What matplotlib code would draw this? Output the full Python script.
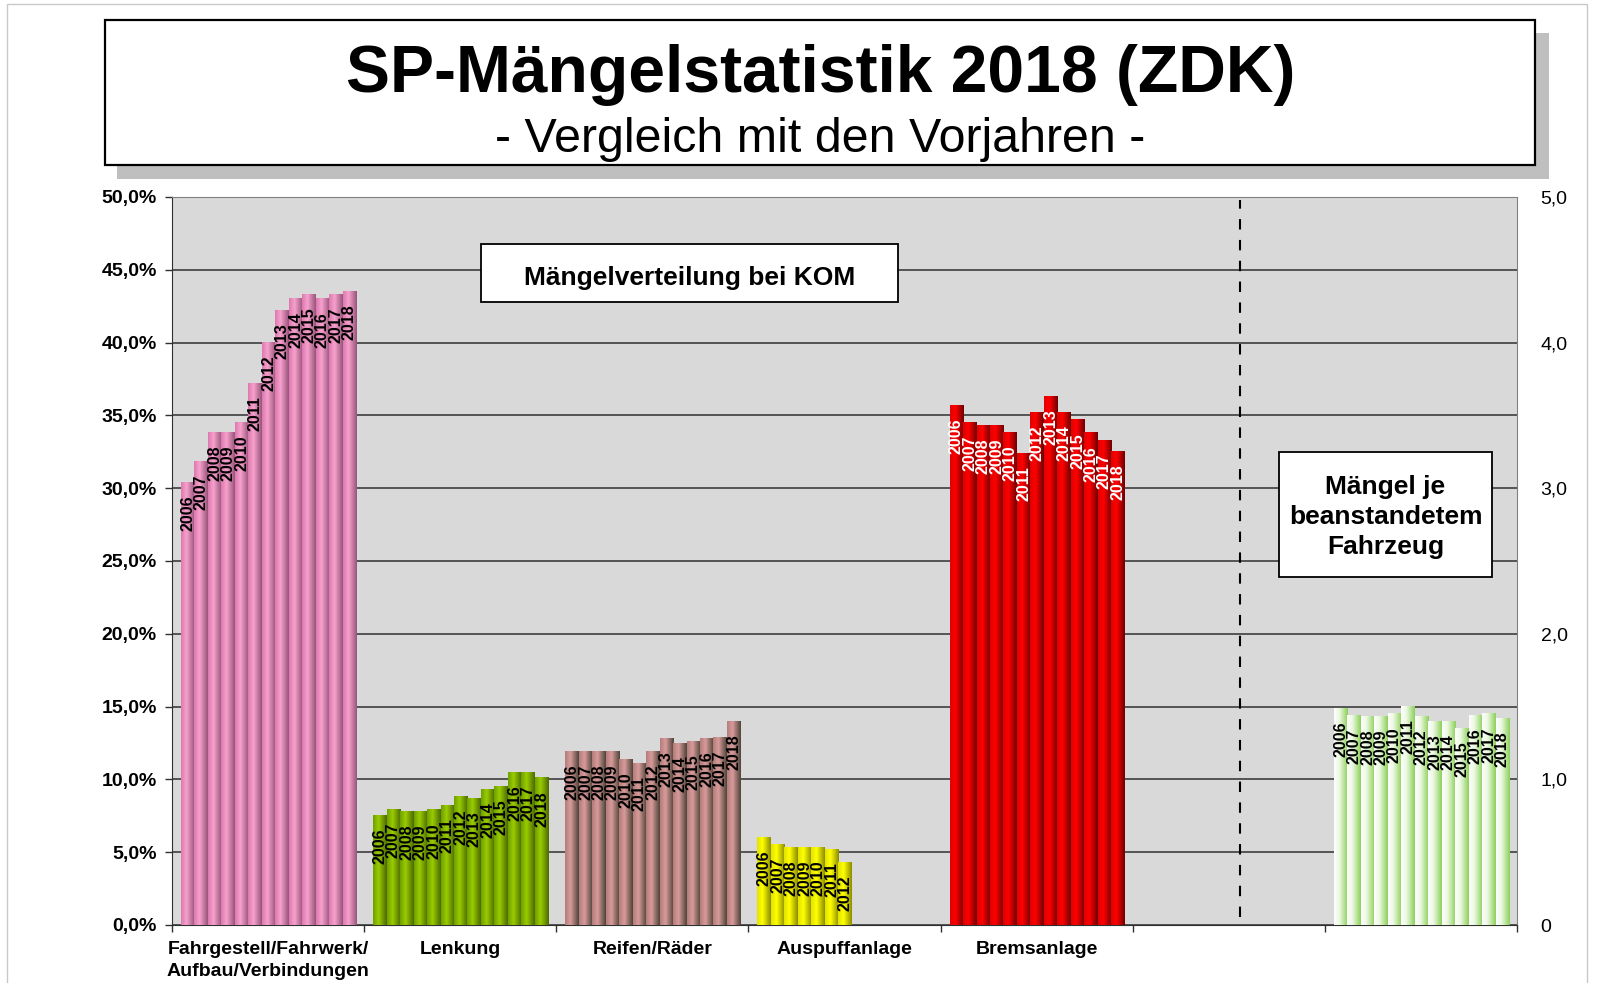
"""SP-Maengelstatistik 2018 (ZDK): Maengelverteilung bei KOM, 2006-2018."""
import numpy as np
import matplotlib.pyplot as plt
from matplotlib.patches import Rectangle
from matplotlib.colors import LinearSegmentedColormap

plt.rcParams['font.family'] = ['Liberation Sans', 'DejaVu Sans']

W, H = 1597, 983

years = [str(y) for y in range(2006, 2019)]
categories = ["Fahrgestell/Fahrwerk/\nAufbau/Verbindungen", "Lenkung", "Reifen/Räder",
              "Auspuffanlage", "Bremsanlage", "", ""]

# share of defects in % (left axis)
fahrgestell = [30.4, 31.8, 33.8, 33.8, 34.5, 37.2, 40.0, 42.2, 43.0, 43.3, 43.0, 43.3, 43.5]
lenkung = [7.5, 7.9, 7.8, 7.8, 7.9, 8.2, 8.8, 8.7, 9.3, 9.5, 10.5, 10.5, 10.1]
reifen = [11.9, 11.9, 11.9, 11.9, 11.4, 11.1, 11.9, 12.8, 12.5, 12.6, 12.8, 12.9, 14.0]
auspuff = [6.0, 5.5, 5.3, 5.3, 5.3, 5.2, 4.3]
brems = [35.7, 34.5, 34.3, 34.3, 33.8, 32.4, 35.2, 36.3, 35.2, 34.7, 33.8, 33.3, 32.5]

# defects per rejected vehicle (right axis)
maengel_je_fzg = [1.49, 1.44, 1.43, 1.43, 1.45, 1.50, 1.43, 1.40, 1.40, 1.35, 1.44, 1.45, 1.42]

left_ticks = list(range(0, 51, 5))
left_labels = [f"{v},0%" for v in left_ticks]
right_ticks = list(range(0, 6))
right_labels = ["0"] + [f"{v},0" for v in right_ticks[1:]]

# (left edge, middle, right edge) shading per category
pink = ('#DC78AE', '#F7A2CD', '#98537A')
green = ('#6E9F00', '#9ACC00', '#4C6A00')
rose = ('#B47C7C', '#D89B9B', '#4E4438')
yellow = ('#E2E200', '#FFFF00', '#8C8C00')
red = ('#E00000', '#FF0000', '#6E0000')
pale = ('#FFFFFF', '#EAF8E0', '#8CD058')


def fx(px):
    return px / W


def fy(py):
    return 1 - py / H


GROUP_OFF = 0.047
BAR_W = 0.0701


def gradient_bars(axis, cat, vals, cols, txt_color):
    xs = [cat + GROUP_OFF + (j + 0.5) * BAR_W for j in range(len(vals))]
    bars = axis.bar(xs, vals, width=BAR_W, color=cols[1], edgecolor='none', zorder=2)
    cmap = LinearSegmentedColormap.from_list('g', [(0, cols[0]), (0.4, cols[1]), (1, cols[2])])
    grad = np.linspace(0, 1, 64).reshape(1, -1)
    for b, yr in zip(bars, years):
        x0, w, h = b.get_x(), b.get_width(), b.get_height()
        axis.imshow(grad, cmap=cmap, extent=[x0, x0 + w, 0, h], aspect='auto',
                    zorder=3, interpolation='bilinear')
        axis.annotate(yr, (x0 + w / 2, h), xytext=(0, -13), textcoords='offset pixels',
                      rotation=90, ha='center', va='top', fontsize=11.5,
                      fontweight='bold', color=txt_color, zorder=4)


fig = plt.figure(figsize=(W / 100, H / 100), dpi=100)
fig.patch.set_facecolor('white')

# outer frame
fig.add_artist(Rectangle((fx(7), fy(995)), fx(1587) - fx(7), fy(4) - fy(995),
                         transform=fig.transFigure, facecolor='none',
                         edgecolor='#C8C8C8', lw=1))

# --- title box with shadow ---
fig.add_artist(Rectangle((fx(117), fy(179)), fx(1549) - fx(117), fy(33) - fy(179),
                         transform=fig.transFigure, facecolor='#BFBFBF', edgecolor='none'))
fig.add_artist(Rectangle((fx(105), fy(165)), fx(1535) - fx(105), fy(20) - fy(165),
                         transform=fig.transFigure, facecolor='white',
                         edgecolor='black', lw=1.6))
fig.text(fx(821), fy(92), "SP-Mängelstatistik 2018 (ZDK)", fontsize=47.5,
         fontweight='bold', ha='center', va='baseline')
fig.text(fx(820), fy(152), "- Vergleich mit den Vorjahren -", fontsize=34.8,
         ha='center', va='baseline')

# --- plot area ---
ax = fig.add_axes([fx(172), fy(925), fx(1517) - fx(172), fy(197) - fy(925)])
ax2 = ax.twinx()
ax.set_facecolor('#D9D9D9')

share_series = [(fahrgestell, pink, 'black'), (lenkung, green, 'black'),
                (reifen, rose, 'black'), (auspuff, yellow, 'black'),
                (brems, red, 'white')]
for cat, (vals, cols, tc) in enumerate(share_series):
    gradient_bars(ax, cat, vals, cols, tc)
gradient_bars(ax2, 6, maengel_je_fzg, pale, 'black')

ax.set_xlim(0, 7)
ax.set_ylim(0, 50)
ax2.set_ylim(0, 5)

ax.set_yticks(left_ticks)
ax.set_yticklabels(left_labels, fontsize=14, fontweight='bold')
ax.yaxis.grid(True, color='#303030', lw=1.1)
ax.set_axisbelow(True)
ax.tick_params(axis='y', length=5, width=1, pad=6, color='#303030')

ax2.set_yticks(right_ticks)
ax2.set_yticklabels(right_labels, fontsize=14)
ax2.tick_params(axis='y', length=0, pad=17)

ax.set_xticks(range(0, 8))
ax.set_xticklabels([])
ax.set_xticks([c + 0.5 for c in range(7)], minor=True)
ax.set_xticklabels(categories, minor=True, fontsize=14, fontweight='bold', linespacing=1.4)
ax.tick_params(axis='x', which='major', length=5, width=1, color='#303030')
ax.tick_params(axis='x', which='minor', length=0, pad=11.5)

for s in ['left', 'bottom']:
    ax.spines[s].set_color('#303030')
for s in ['top', 'right']:
    ax.spines[s].set_color('#808080')
for s in ax2.spines.values():
    s.set_visible(False)

# separator between shares and defects per vehicle
ax.axvline(5.56, ymin=0.011, ymax=0.996, color='black', ls=(0, (5, 5)), lw=1.5, zorder=1)

# --- annotation boxes ---
fig.add_artist(Rectangle((fx(481), fy(302)), fx(898) - fx(481), fy(244) - fy(302),
                         transform=fig.transFigure, facecolor='white',
                         edgecolor='black', lw=1.3, zorder=5))
fig.text(fx(689.5), fy(278), "Mängelverteilung bei KOM", fontsize=19,
         fontweight='bold', ha='center', va='center', zorder=6)
fig.add_artist(Rectangle((fx(1279), fy(577)), fx(1492) - fx(1279), fy(452) - fy(577),
                         transform=fig.transFigure, facecolor='white',
                         edgecolor='black', lw=1.3, zorder=5))
fig.text(fx(1385.5), fy(517), "Mängel je\nbeanstandetem\nFahrzeug", fontsize=19,
         fontweight='bold', ha='center', va='center', linespacing=1.3,
         multialignment='center', zorder=6)

plt.savefig("out.png", dpi=100)
